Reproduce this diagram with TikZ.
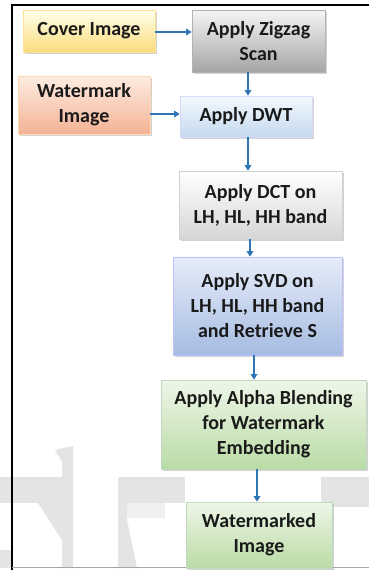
\documentclass[tikz,border=0pt]{standalone}
\usepackage{fontspec}
\setmainfont{Carlito}
\usetikzlibrary{shadows,arrows.meta}
\definecolor{arrowblue}{HTML}{2E75B6}
\definecolor{wmgray}{HTML}{E4E4E4}
\definecolor{txt}{HTML}{1A1A1A}
\tikzset{
  box/.style={draw, line width=0.6pt, inner sep=0pt, align=center,
    text=txt, font=\bfseries\fontsize{20}{25}\selectfont,
    drop shadow={opacity=0.35, shadow xshift=1.5pt, shadow yshift=-1.5pt}},
  yellowbox/.style={box, draw=yellow!50!orange!40, top color=yellow!8, bottom color={rgb,255:red,249;green,220;blue,125}},
  graybox/.style={box, draw=gray!60, top color=gray!8, bottom color={rgb,255:red,165;green,165;blue,165}},
  orangebox/.style={box, draw=orange!30, top color={rgb,255:red,253;green,236;blue,226}, bottom color={rgb,255:red,244;green,178;blue,148}},
  lbluebox/.style={box, draw=blue!15, top color={rgb,255:red,243;green,248;blue,253}, bottom color={rgb,255:red,196;green,218;blue,240}},
  lgraybox/.style={box, draw=gray!35, top color=white, bottom color={rgb,255:red,214;green,214;blue,214}},
  bluebox/.style={box, draw=blue!25, top color={rgb,255:red,230;green,237;blue,249}, bottom color={rgb,255:red,166;green,188;blue,226}},
  greenbox/.style={box, draw=green!40!black!25, top color={rgb,255:red,238;green,246;blue,232}, bottom color={rgb,255:red,186;green,219;blue,166}},
  conn/.style={draw=arrowblue, line width=1.4pt, -{Triangle[length=5.5pt,width=6.5pt]}},
}
\begin{document}
\begin{tikzpicture}[x=1pt, y=-1pt]
\useasboundingbox (0,0) rectangle (369,570);
\fill[white] (0,0) rectangle (369,570);
% faint background watermark shapes
\fill[wmgray] (0,477) rectangle (62,503);
\fill[wmgray] (55,450) -- (73,446) -- (73,568) -- (62,568) -- (62,540) -- (38,503) -- (62,503) -- (62,462) -- cycle;
\fill[wmgray] (118,477) rectangle (185,503);
\fill[wmgray!60] (127,503) rectangle (165,518);
\fill[wmgray] (118,503) -- (127,503) -- (127,520) -- (137,568) -- (118,568) -- cycle;
\fill[wmgray] (321,477) rectangle (369,507);
\fill[wmgray] (0,550) rectangle (11,568);
% frame
\draw[black, line width=1.5pt] (12,570) -- (12,5) -- (369,5);
\draw[gray!70, line width=1pt] (12,567.5) -- (369,567.5);
% column coordinates
\coordinate (c1) at (248,0);
\coordinate (c2) at (250,0);
\coordinate (c3) at (254,0);
\coordinate (c4) at (257,0);
\coordinate (r1) at (0,32);
\coordinate (r2) at (0,114);
% nodes
\node[yellowbox, minimum width=132pt, minimum height=42pt] (cover) at (89,31) {Cover Image};
\node[graybox, minimum width=133pt, minimum height=62pt] (zig) at (258.5,41) {Apply Zigzag\\Scan};
\node[orangebox, minimum width=132pt, minimum height=58pt] (wm) at (84,105) {Watermark\\Image};
\node[lbluebox, minimum width=132pt, minimum height=41pt] (dwt) at (246,116.5) {Apply DWT};
\node[lgraybox, minimum width=163pt, minimum height=68pt] (dct) at (260.5,205) {Apply DCT on\\LH, HL, HH band};
\node[bluebox, minimum width=169pt, minimum height=98pt] (svd) at (257.5,306) {Apply SVD on\\LH, HL, HH band\\and Retrieve S};
\node[greenbox, minimum width=205pt, minimum height=89pt] (alpha) at (263.5,424.5) {Apply Alpha Blending\\for Watermark\\Embedding};
\node[greenbox, minimum width=146pt, minimum height=66pt] (out) at (259,535) {Watermarked\\Image};
% connectors
\draw[conn] (cover.east |- r1) -- (zig.west |- r1);
\draw[conn] (zig.south -| c1) -- (dwt.north -| c1);
\draw[conn] (wm.east |- r2) -- (dwt.west |- r2);
\draw[conn] (dwt.south -| c1) -- (dct.north -| c1);
\draw[conn] (dct.south -| c2) -- (svd.north -| c2);
\draw[conn] (svd.south -| c3) -- (alpha.north -| c3);
\draw[conn] (alpha.south -| c4) -- (out.north -| c4);
\end{tikzpicture}
\end{document}
